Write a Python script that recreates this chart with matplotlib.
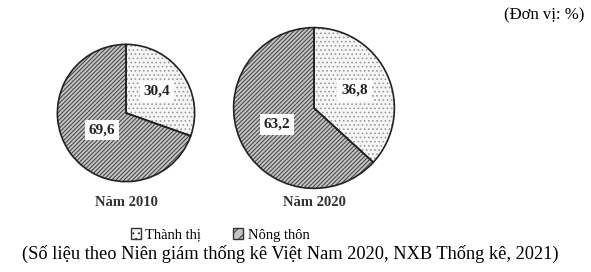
import matplotlib.pyplot as plt
import numpy as np
from matplotlib.patches import Patch

plt.rcParams["font.family"] = ["Liberation Serif", "DejaVu Serif"]
plt.rcParams["hatch.linewidth"] = 0.7

YEARS = ["Năm 2010", "Năm 2020"]
CATEGORIES = ["Thành thị", "Nông thôn"]
THANH_THI = [30.4, 36.8]
NONG_THON = [69.6, 63.2]

W, H = 591, 272
# pie centre (x, y from top) and radius in pixels
PIE_BOXES = [(126, 113, 70), (314, 108, 82)]
# label distance from centre per slice (fraction of radius)
LABEL_DIST = [(0.55, 0.43), (0.55, 0.50)]
HATCHES = ["....", "////////"]
HATCH_COLORS = ["#9a9a9a", "#3c3c3c"]
FACES = ["#f6f6f6", "#c4c4c4"]


def fmt(v):
    return f"{v:.1f}".replace(".", ",")


fig = plt.figure(figsize=(W / 100, H / 100), dpi=100)

for i, (cx, cy, r) in enumerate(PIE_BOXES):
    ax = fig.add_axes([(cx - r) / W, (H - cy - r) / H, 2 * r / W, 2 * r / H])
    values = [THANH_THI[i], NONG_THON[i]]
    wedges, _ = ax.pie(values, startangle=90, counterclock=False, radius=1,
                       colors=FACES, wedgeprops=dict(linewidth=0))
    for w, h, hc in zip(wedges, HATCHES, HATCH_COLORS):
        w.set_hatch(h)
        w.set_edgecolor(hc)
    ax.pie(values, startangle=90, counterclock=False, radius=1,
           colors=["none", "none"],
           wedgeprops=dict(linewidth=1.2, edgecolor="#222222"))

    ang0 = 90
    for v, dist in zip(values, LABEL_DIST[i]):
        mid = np.deg2rad(ang0 - v * 3.6 / 2)
        ang0 -= v * 3.6
        ax.text(dist * np.cos(mid), dist * np.sin(mid), fmt(v),
                ha="center", va="center", fontsize=11, fontweight="bold",
                color="#222222",
                bbox=dict(boxstyle="square,pad=0.25", fc="white", ec="none"))
    ax.set_xlim(-1.02, 1.02)
    ax.set_ylim(-1.02, 1.02)
    ax.axis("off")
    fig.text(cx / W, 1 - 202 / H, YEARS[i], ha="center", va="center",
             fontsize=10.5, fontweight="bold", color="#333333")

handles = [Patch(facecolor=FACES[k], edgecolor="#333333", hatch=HATCHES[k][:3],
                 linewidth=1) for k in range(2)]
fig.legend(handles, CATEGORIES, loc="center", bbox_to_anchor=(220 / W, 1 - 235 / H),
           ncol=2, frameon=False, fontsize=10.5, handlelength=0.7, handleheight=0.7,
           handletextpad=0.3, columnspacing=2.2)

fig.text(584 / W, 1 - 15 / H, "(Đơn vị: %)", ha="right", va="center", fontsize=12)
fig.text(290 / W, 1 - 254 / H,
         "(Số liệu theo Niên giám thống kê Việt Nam 2020, NXB Thống kê, 2021)",
         ha="center", va="center", fontsize=13.2)

fig.savefig("out.png", dpi=100)
